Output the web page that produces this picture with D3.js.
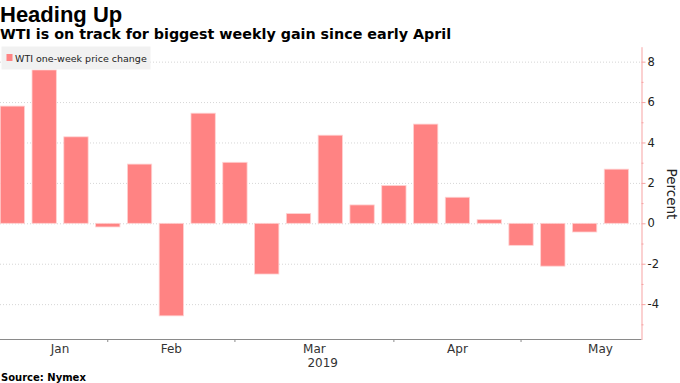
<!DOCTYPE html>
<html>
<head>
<meta charset="utf-8">
<script src="https://cdn.jsdelivr.net/npm/d3@7"></script>
<style>
  body { margin: 0; background: #fff; }
  svg { display: block; }
</style>
</head>
<body>
<svg id="chart" width="680" height="383"></svg>
<script>
// weekly observations (week ending)
var weeks = ["2019-01-11", "2019-01-18", "2019-01-25", "2019-02-01", "2019-02-08",
             "2019-02-15", "2019-02-22", "2019-03-01", "2019-03-08", "2019-03-15",
             "2019-03-22", "2019-03-29", "2019-04-05", "2019-04-12", "2019-04-19",
             "2019-04-26", "2019-05-03", "2019-05-10", "2019-05-17", "2019-05-24"];
// WTI one-week price change, percent
var changes = [5.80, 7.59, 4.28, -0.18, 2.93, -4.58, 5.45, 3.02, -2.51, 0.48,
               4.36, 0.91, 1.87, 4.91, 1.29, 0.18, -1.09, -2.12, -0.43, 2.68];
var y_ticks = [-4, -2, 0, 2, 4, 6, 8];
var y_minor_ticks = [-5, -3, -1, 1, 3, 5, 7];
var y_domain = [-5.75, 8.74];
var year_label = "2019";

var title = "Heading Up",
    subtitle = "WTI is on track for biggest weekly gain since early April",
    legend_label = "WTI one-week price change",
    y_label = "Percent",
    source = "Source: Nymex";

var bar_color = "#ff8383";

var svg = d3.select("#chart");
var plot = {left: 0, right: 641.5, top: 46.7, bottom: 339.5};

var dates = weeks.map(d3.timeParse("%Y-%m-%d"));

var x = d3.scaleBand()
  .domain(d3.range(dates.length))
  .range([-3.5, 632.3])
  .paddingInner(0.235)
  .paddingOuter(0.1175);

var y = d3.scaleLinear().domain(y_domain).range([plot.bottom, plot.top]);

// center of the i-th weekly slot, also past the last bar
function cx(i) {
  return x(0) + x.bandwidth() / 2 + i * x.step();
}

/* gridlines */
svg.append("g").selectAll("line")
  .data(y_ticks).enter().append("line")
  .attr("x1", plot.left).attr("x2", plot.right)
  .attr("y1", function(d) { return y(d) + 0.5; })
  .attr("y2", function(d) { return y(d) + 0.5; })
  .attr("stroke", "#d6d6d6")
  .attr("stroke-dasharray", "1,2");

/* bars */
svg.append("g").selectAll("rect")
  .data(changes).enter().append("rect")
  .attr("x", function(d, i) { return x(i); })
  .attr("width", x.bandwidth())
  .attr("y", function(d) { return y(Math.max(0, d)); })
  .attr("height", function(d) { return Math.abs(y(d) - y(0)); })
  .attr("fill", bar_color)
  .attr("stroke", "#ffd2d2")
  .attr("stroke-width", 0.8);

/* month ticks and labels */
var fmt_month = d3.timeFormat("%b");
var month_starts = [];
dates.forEach(function(d, i) {
  if (i == 0 || d.getMonth() != dates[i - 1].getMonth()) month_starts.push(i);
});
// where the last month would end if weeks went on
var last = dates[dates.length - 1], extra = 1;
while (d3.timeDay.offset(last, 7 * extra).getMonth() == last.getMonth()) extra++;
var month_ends = month_starts.slice(1).concat([dates.length - 1 + extra]);

var x_axis = svg.append("g");
x_axis.append("line")
  .attr("x1", plot.left).attr("x2", plot.right)
  .attr("y1", plot.bottom).attr("y2", plot.bottom)
  .attr("stroke", "#8a8a8a");
x_axis.selectAll("line.tick")
  .data(month_starts.slice(1)).enter().append("line")
  .attr("class", "tick")
  .attr("x1", function(i) { return cx(i); })
  .attr("x2", function(i) { return cx(i); })
  .attr("y1", plot.bottom).attr("y2", plot.bottom + 2.5)
  .attr("stroke", "#8a8a8a");
x_axis.selectAll("text.month")
  .data(month_starts).enter().append("text")
  .attr("class", "month")
  .attr("x", function(s, k) { return (cx(s) + cx(month_ends[k])) / 2; })
  .attr("y", 352.5)
  .attr("text-anchor", "middle")
  .style("font", "12px 'DejaVu Sans'")
  .attr("fill", "#333")
  .text(function(s) { return fmt_month(dates[s]); });
x_axis.append("text")
  .attr("x", (plot.left + plot.right) / 2 + 2)
  .attr("y", 367)
  .attr("text-anchor", "middle")
  .style("font", "12px 'DejaVu Sans'")
  .attr("fill", "#333")
  .text(year_label);

/* right axis */
var y_axis = svg.append("g")
  .attr("transform", "translate(" + plot.right + ",0)")
  .call(d3.axisRight(y).tickValues(y_ticks).tickSize(4).tickSizeOuter(0)
        .tickPadding(2).tickFormat(function(d) { return String(d); }));
svg.append("g")
  .attr("transform", "translate(" + plot.right + ",0)")
  .call(d3.axisRight(y).tickValues(y_minor_ticks).tickSize(2).tickSizeOuter(0)
        .tickFormat(""))
  .select(".domain").remove();
svg.selectAll(".domain, .tick line").attr("stroke", "#f7a3a3");
y_axis.selectAll("text")
  .style("font", "11.5px 'DejaVu Sans'")
  .attr("fill", "#222");

svg.append("text")
  .attr("transform", "translate(667,194) rotate(90)")
  .attr("text-anchor", "middle")
  .style("font", "13.5px 'DejaVu Sans'")
  .attr("fill", "#222")
  .text(y_label);

/* legend */
var legend = svg.append("g");
legend.append("rect")
  .attr("x", 1.5).attr("y", 46.5).attr("width", 149).attr("height", 23)
  .attr("fill", "#f1f1f1");
legend.append("rect")
  .attr("x", 6.5).attr("y", 54).attr("width", 6).attr("height", 7)
  .attr("fill", bar_color);
legend.append("text")
  .attr("x", 15).attr("y", 61.5)
  .style("font", "9.5px 'DejaVu Sans'")
  .attr("fill", "#222")
  .text(legend_label);

/* titles */
svg.append("text")
  .attr("x", 0).attr("y", 21.5)
  .style("font", "bold 22px 'Liberation Sans'")
  .attr("fill", "#000")
  .text(title);
svg.append("text")
  .attr("x", 0).attr("y", 39)
  .style("font", "bold 14.3px 'DejaVu Sans'")
  .attr("fill", "#000")
  .text(subtitle);
svg.append("text")
  .attr("x", 1).attr("y", 381)
  .style("font", "bold 10px 'DejaVu Sans'")
  .attr("fill", "#000")
  .text(source);
</script>
</body>
</html>
